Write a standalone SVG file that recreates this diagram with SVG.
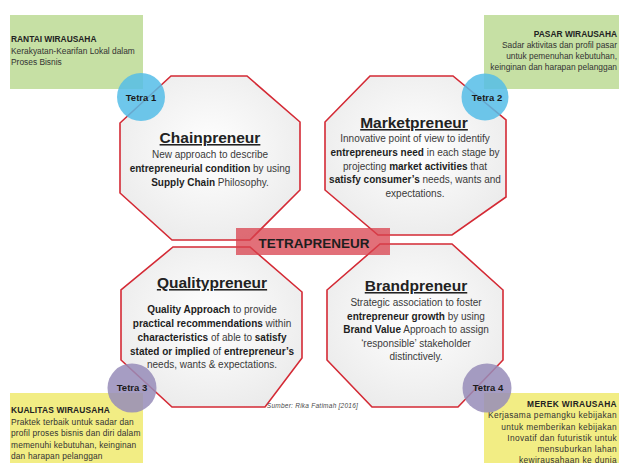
<svg xmlns="http://www.w3.org/2000/svg" width="619" height="463" viewBox="0 0 619 463">
<defs>
<radialGradient id="octFill" cx="50%" cy="45%" r="60%">
<stop offset="0" stop-color="#ffffff"/>
<stop offset="1" stop-color="#ebebeb"/>
</radialGradient>
<style>
.oct{fill:url(#octFill);stroke:#d42a35;stroke-width:1.6;stroke-linejoin:miter}
.green{fill:#c6e0a4}
.yellow{fill:#f2ed84}
.blue{fill:#55bde8;fill-opacity:0.85}
.purple{fill:#968cb8;fill-opacity:0.85}
.box{font-family:"Liberation Sans",Arial,sans-serif;font-size:8.4px;fill:#333}
.boxh{font-weight:bold;fill:#222}
.title{font-family:"Liberation Sans",Arial,sans-serif;font-size:15.5px;font-weight:bold;fill:#222;text-decoration:underline;text-anchor:middle}
.body{font-family:"Liberation Sans",Arial,sans-serif;font-size:10px;fill:#3a3a3a;text-anchor:middle}
.b{font-weight:bold;fill:#1e1e1e}
.tetra{font-family:"Liberation Sans",Arial,sans-serif;font-size:9.5px;font-weight:bold;fill:#1a1a1a;text-anchor:middle}
</style>
</defs>
<rect width="619" height="463" fill="#ffffff"/>

<g id="box-rantai">
<rect class="green" x="10" y="15" width="133" height="74"/>
<text class="box" x="11" y="42"><tspan class="boxh">RANTAI WIRAUSAHA</tspan></text>
<text class="box" x="11" y="54">Kerakyatan-Kearifan Lokal dalam</text>
<text class="box" x="11" y="65">Proses Bisnis</text>
</g>

<g id="box-pasar">
<rect class="green" x="484" y="15" width="135" height="74"/>
<text class="box" x="617" y="37" text-anchor="end"><tspan class="boxh">PASAR WIRAUSAHA</tspan></text>
<text class="box" x="617" y="48" text-anchor="end">Sadar aktivitas dan profil pasar</text>
<text class="box" x="617" y="59" text-anchor="end">untuk pemenuhan kebutuhan,</text>
<text class="box" x="617" y="70" text-anchor="end">keinginan dan harapan pelanggan</text>
</g>

<g id="box-kualitas">
<rect class="yellow" x="10" y="393" width="133" height="70"/>
<text class="box" x="11" y="413" letter-spacing="0.15"><tspan class="boxh">KUALITAS WIRAUSAHA</tspan></text>
<text class="box" x="11" y="424.5" letter-spacing="0.15">Praktek terbaik untuk sadar dan</text>
<text class="box" x="11" y="436" letter-spacing="0.15">profil proses bisnis dan diri dalam</text>
<text class="box" x="11" y="447.5" letter-spacing="0.15">memenuhi kebutuhan, keinginan</text>
<text class="box" x="11" y="459" letter-spacing="0.15">dan harapan pelanggan</text>
</g>

<g id="box-merek">
<rect class="yellow" x="484" y="393" width="135" height="70"/>
<text class="box" x="617" y="406.5" text-anchor="end" letter-spacing="0.35"><tspan class="boxh">MEREK WIRAUSAHA</tspan></text>
<text class="box" x="617" y="418" text-anchor="end" letter-spacing="0.35">Kerjasama pemangku kebijakan</text>
<text class="box" x="617" y="429.5" text-anchor="end" letter-spacing="0.35">untuk memberikan kebijakan</text>
<text class="box" x="617" y="441" text-anchor="end" letter-spacing="0.35">Inovatif dan futuristik untuk</text>
<text class="box" x="617" y="452" text-anchor="end" letter-spacing="0.35">mensuburkan lahan</text>
<text class="box" x="617" y="462.5" text-anchor="end" letter-spacing="0.35">kewirausahaan ke dunia</text>
</g>

<g id="chainpreneur">
<polygon class="oct" points="171,76 247,76 300,122 300,190 250,240 172,240 120,193 120,123"/>
<text class="title" x="210" y="143">Chainpreneur</text>
<text class="body" x="210" y="158">New approach to describe</text>
<text class="body" x="210" y="172"><tspan class="b">entrepreneurial condition</tspan> by using</text>
<text class="body" x="210" y="185.5"><tspan class="b">Supply Chain</tspan> Philosophy.</text>
</g>

<g id="marketpreneur">
<polygon class="oct" points="370,76 453,76 506,120 506,197 452,235 378,235 325,190 325,122"/>
<text class="title" x="414" y="128">Marketpreneur</text>
<text class="body" x="415" y="142">Innovative point of view to identify</text>
<text class="body" x="415" y="156"><tspan class="b">entrepreneurs need</tspan> in each stage by</text>
<text class="body" x="415" y="169.5">projecting <tspan class="b">market activities</tspan> that</text>
<text class="body" x="415" y="183"><tspan class="b">satisfy consumer’s</tspan> needs, wants and</text>
<text class="body" x="415" y="196.5">expectations.</text>
</g>

<g id="qualitypreneur">
<polygon class="oct" points="173,247 250,247 302,292 302,358 265,407 172,407 121,360 121,290"/>
<text class="title" x="212" y="288">Qualitypreneur</text>
<text class="body" x="212" y="313"><tspan class="b">Quality Approach</tspan> to provide</text>
<text class="body" x="212" y="327"><tspan class="b">practical recommendations</tspan> within</text>
<text class="body" x="212" y="341"><tspan class="b">characteristics</tspan> of able to <tspan class="b">satisfy</tspan></text>
<text class="body" x="212" y="354.5"><tspan class="b">stated or implied</tspan> of <tspan class="b">entrepreneur’s</tspan></text>
<text class="body" x="212" y="368">needs, wants &amp; expectations.</text>
</g>

<g id="brandpreneur">
<polygon class="oct" points="380,244 452,244 503,290 503,360 458,407 372,407 327,360 327,290"/>
<text class="title" x="416" y="291">Brandpreneur</text>
<text class="body" x="416" y="306">Strategic association to foster</text>
<text class="body" x="416" y="319.5"><tspan class="b">entrepreneur growth</tspan> by using</text>
<text class="body" x="416" y="333"><tspan class="b">Brand Value</tspan> Approach to assign</text>
<text class="body" x="416" y="346.5">‘responsible’ stakeholder</text>
<text class="body" x="416" y="360">distinctively.</text>
</g>

<g id="tetrapreneur">
<rect x="236" y="228" width="154" height="27" fill="#d8404c" fill-opacity="0.75"/>
<text x="314" y="248" font-family="'Liberation Sans',Arial,sans-serif" font-size="13.5" font-weight="bold" fill="#1e1e1e" text-anchor="middle">TETRAPRENEUR</text>
</g>

<g id="tetra-1">
<circle class="blue" cx="141" cy="97" r="24"/>
<text class="tetra" x="141" y="100.5">Tetra 1</text>
</g>
<g id="tetra-2">
<circle class="blue" cx="485" cy="97" r="23.5"/>
<text class="tetra" x="487" y="100.5">Tetra 2</text>
</g>
<g id="tetra-3">
<circle class="purple" cx="132" cy="388" r="24.5"/>
<text class="tetra" x="132" y="391">Tetra 3</text>
</g>
<g id="tetra-4">
<circle class="purple" cx="487" cy="388" r="24.5"/>
<text class="tetra" x="488" y="391">Tetra 4</text>
</g>

<text x="312.5" y="407.5" font-family="'Liberation Sans',Arial,sans-serif" font-size="6.5" font-style="italic" fill="#4a4a4a" text-anchor="middle" letter-spacing="0.25">Sumber: Rika Fatimah [2016]</text>
</svg>
